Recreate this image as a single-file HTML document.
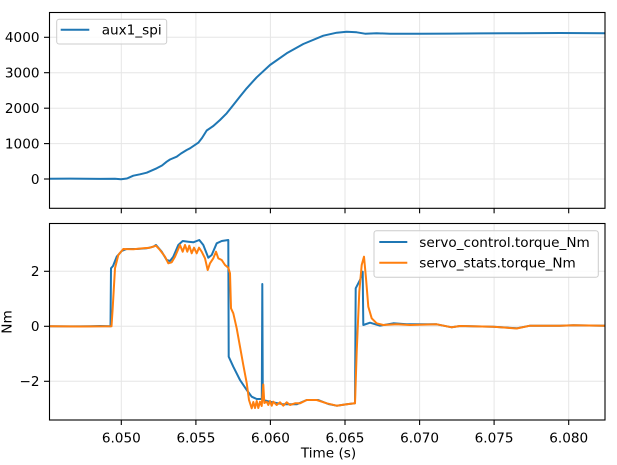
<!DOCTYPE html>
<html><head><meta charset="utf-8"><style>
html,body{margin:0;padding:0;background:#fff;}
svg{display:block;}
text{font-family:"DejaVu Sans","Liberation Sans",sans-serif;font-size:13.6px;fill:#000;}
</style></head><body>
<svg width="617" height="465" viewBox="0 0 617 465" xmlns="http://www.w3.org/2000/svg">
<defs>
<clipPath id="c1"><rect x="49.5" y="12.5" width="555.5" height="195.8"/></clipPath>
<clipPath id="c2"><rect x="49.5" y="223.5" width="555.5" height="196.5"/></clipPath>
</defs>
<rect width="617" height="465" fill="#fff"/>
<g stroke="#e6e6e6" stroke-width="1">
<line x1="121.3" y1="12.5" x2="121.3" y2="208.3"/><line x1="195.9" y1="12.5" x2="195.9" y2="208.3"/><line x1="270.4" y1="12.5" x2="270.4" y2="208.3"/><line x1="345" y1="12.5" x2="345" y2="208.3"/><line x1="419.6" y1="12.5" x2="419.6" y2="208.3"/><line x1="494.1" y1="12.5" x2="494.1" y2="208.3"/><line x1="568.7" y1="12.5" x2="568.7" y2="208.3"/>
<line x1="49.5" y1="179" x2="605" y2="179"/><line x1="49.5" y1="143.6" x2="605" y2="143.6"/><line x1="49.5" y1="108.2" x2="605" y2="108.2"/><line x1="49.5" y1="72.7" x2="605" y2="72.7"/><line x1="49.5" y1="37.3" x2="605" y2="37.3"/>
<line x1="121.3" y1="223.5" x2="121.3" y2="420"/><line x1="195.9" y1="223.5" x2="195.9" y2="420"/><line x1="270.4" y1="223.5" x2="270.4" y2="420"/><line x1="345" y1="223.5" x2="345" y2="420"/><line x1="419.6" y1="223.5" x2="419.6" y2="420"/><line x1="494.1" y1="223.5" x2="494.1" y2="420"/><line x1="568.7" y1="223.5" x2="568.7" y2="420"/>
<line x1="49.5" y1="271.3" x2="605" y2="271.3"/><line x1="49.5" y1="326.3" x2="605" y2="326.3"/><line x1="49.5" y1="381.3" x2="605" y2="381.3"/>
</g>
<g clip-path="url(#c1)">
<polyline fill="none" stroke="#1f77b4" stroke-width="2" stroke-linejoin="round" points="49,178.7 70,178.6 100,178.9 115,178.8 121,179.3 127,178.5 133.3,175.7 140,174.3 146.7,172.7 156.7,168.3 162,165.5 166.7,161.7 170,159.5 176.7,156.7 181,153.5 186.7,150 190,148.3 198.3,142.7 202,138 206.7,130.5 213.3,126 220,120 226.7,113.3 233.3,105 240,96.5 246.7,88.3 256.7,77.3 270,65 286.7,53.3 303.3,44 323.3,35.7 336.7,32.7 346.7,31.7 356.7,32.3 365,33.7 376.7,33.3 390,33.7 420,33.8 450,33.6 480,33.4 520,33.2 560,33 605,33.2"/>
</g>
<g clip-path="url(#c2)" fill="none" stroke-width="2" stroke-linejoin="round">
<polyline stroke="#1f77b4" points="49,326.2 70,326.4 90,326.2 100,326 110.5,326.3 111,268.3 113,266 116.7,256.7 121.7,251 126.7,249 136.7,249 146.7,248.3 153.3,246.7 156,245 161.7,251.7 166.7,260 170,261 173.3,256.7 178.3,245 182.7,241 188.3,241.7 193.3,242.3 199.3,240 203.3,245 208.3,257.7 211.7,255 216.7,243.3 221.7,241 228.3,240 228.7,356.7 233.3,366.7 240,380 246.7,390 251.7,396.7 256.7,399 261.8,399 262.3,284 262.8,400 270,401.7 283.3,404.3 296.7,404.3 306.7,400 318.3,400 328.3,404 336.7,405.7 346.7,404.3 355,403.3 355.7,288.3 360,280 362.7,271.7 363.3,325 370,322.7 380,325.7 393.3,323.3 406.7,324.3 436.7,324.3 451.7,327.3 460,326 493.3,326.7 516.7,328.3 530,325.7 560,325.7 573.3,325.3 605,325.7"/>
<polyline stroke="#ff7f0e" points="49,326.3 80,326.5 111.5,326.3 112.7,308 115,268.3 118.3,255 123.3,249 133.3,249.3 143.3,248.3 150,247.7 156,245.7 160,250 165,256.7 168.3,263.3 171.7,262.3 175,256.7 180,245 182.7,251.7 185,245 187.3,251.7 189.3,245.7 191.7,253.3 194,247.7 196.7,253.3 199,247.7 201.7,251.7 205,258.3 207.7,270 210,263.3 213.3,258.3 216,251.7 218.3,258.3 221.7,260 225,265 228.3,267.7 230,273.3 231,308.3 233.3,313.3 236.7,328.3 240,346.7 243.3,365 246.7,383 249,400 251.7,408.3 253.3,402 255,408 256.7,401 258.3,408 260,401.7 261.7,406 263.3,384.5 264.3,403 266.7,401.7 268.3,405 270,401 271.7,405.7 273.3,401.7 276.7,405 280,402.3 283.3,405.7 286.7,402.3 290,405 295,403.3 300,403.3 306.7,400 316.7,400 326.7,403.3 336.7,405.7 346.7,404.3 355,403.3 356.7,351.7 359.3,291.7 361.7,265 364,256.7 366,278.3 368.3,306.7 371.7,318.3 376.7,323.3 383.3,325 396.7,324.3 410,325 436.7,324.3 451.7,327.3 460,326 493.3,326.7 516.7,328.5 530,325.7 560,325.7 573.3,325.3 605,325.7"/>
</g>
<rect x="49.5" y="12.5" width="555.5" height="195.8" fill="none" stroke="#000" stroke-width="1.1"/>
<rect x="49.5" y="223.5" width="555.5" height="196.5" fill="none" stroke="#000" stroke-width="1.1"/>
<g stroke="#000" stroke-width="1.1">
<line x1="121.3" y1="208.3" x2="121.3" y2="213.3"/><line x1="195.9" y1="208.3" x2="195.9" y2="213.3"/><line x1="270.4" y1="208.3" x2="270.4" y2="213.3"/><line x1="345" y1="208.3" x2="345" y2="213.3"/><line x1="419.6" y1="208.3" x2="419.6" y2="213.3"/><line x1="494.1" y1="208.3" x2="494.1" y2="213.3"/><line x1="568.7" y1="208.3" x2="568.7" y2="213.3"/>
<line x1="121.3" y1="420" x2="121.3" y2="425"/><line x1="195.9" y1="420" x2="195.9" y2="425"/><line x1="270.4" y1="420" x2="270.4" y2="425"/><line x1="345" y1="420" x2="345" y2="425"/><line x1="419.6" y1="420" x2="419.6" y2="425"/><line x1="494.1" y1="420" x2="494.1" y2="425"/><line x1="568.7" y1="420" x2="568.7" y2="425"/>
<line x1="44" y1="179" x2="49.5" y2="179"/><line x1="44" y1="143.6" x2="49.5" y2="143.6"/><line x1="44" y1="108.2" x2="49.5" y2="108.2"/><line x1="44" y1="72.7" x2="49.5" y2="72.7"/><line x1="44" y1="37.3" x2="49.5" y2="37.3"/>
<line x1="44" y1="271.3" x2="49.5" y2="271.3"/><line x1="44" y1="326.3" x2="49.5" y2="326.3"/><line x1="44" y1="381.3" x2="49.5" y2="381.3"/>
</g>
<g text-anchor="end">
<text x="39.5" y="183.9">0</text>
<text x="39.5" y="148.5">1000</text>
<text x="39.5" y="113.1">2000</text>
<text x="39.5" y="77.6">3000</text>
<text x="39.5" y="42.2">4000</text>
<text x="39.5" y="276.2">2</text>
<text x="39.5" y="331.2">0</text>
<text x="39.5" y="386.2">−2</text>
</g>
<g text-anchor="middle">
<text x="121.3" y="442.5">6.050</text>
<text x="195.9" y="442.5">6.055</text>
<text x="270.4" y="442.5">6.060</text>
<text x="345" y="442.5">6.065</text>
<text x="419.6" y="442.5">6.070</text>
<text x="494.1" y="442.5">6.075</text>
<text x="568.7" y="442.5">6.080</text>
<text x="328.5" y="457.7">Time (s)</text>
<text x="0" y="0" transform="translate(11.5,322) rotate(-90)">Nm</text>
</g>
<rect x="56.7" y="19.3" width="110" height="24.7" rx="2.5" fill="#fff" fill-opacity="0.8" stroke="#cccccc" stroke-width="1"/>
<line x1="60.7" y1="29.7" x2="89.3" y2="29.7" stroke="#1f77b4" stroke-width="2"/>
<text x="101.7" y="34.6">aux1_spi</text>
<rect x="374" y="230.7" width="224.3" height="46.6" rx="2.5" fill="#fff" fill-opacity="0.8" stroke="#cccccc" stroke-width="1"/>
<line x1="379.3" y1="242" x2="407.3" y2="242" stroke="#1f77b4" stroke-width="2"/>
<text x="419.3" y="246.9">servo_control.torque_Nm</text>
<line x1="379.3" y1="262.7" x2="407.3" y2="262.7" stroke="#ff7f0e" stroke-width="2"/>
<text x="419.3" y="267.6">servo_stats.torque_Nm</text>
</svg>
</body></html>
